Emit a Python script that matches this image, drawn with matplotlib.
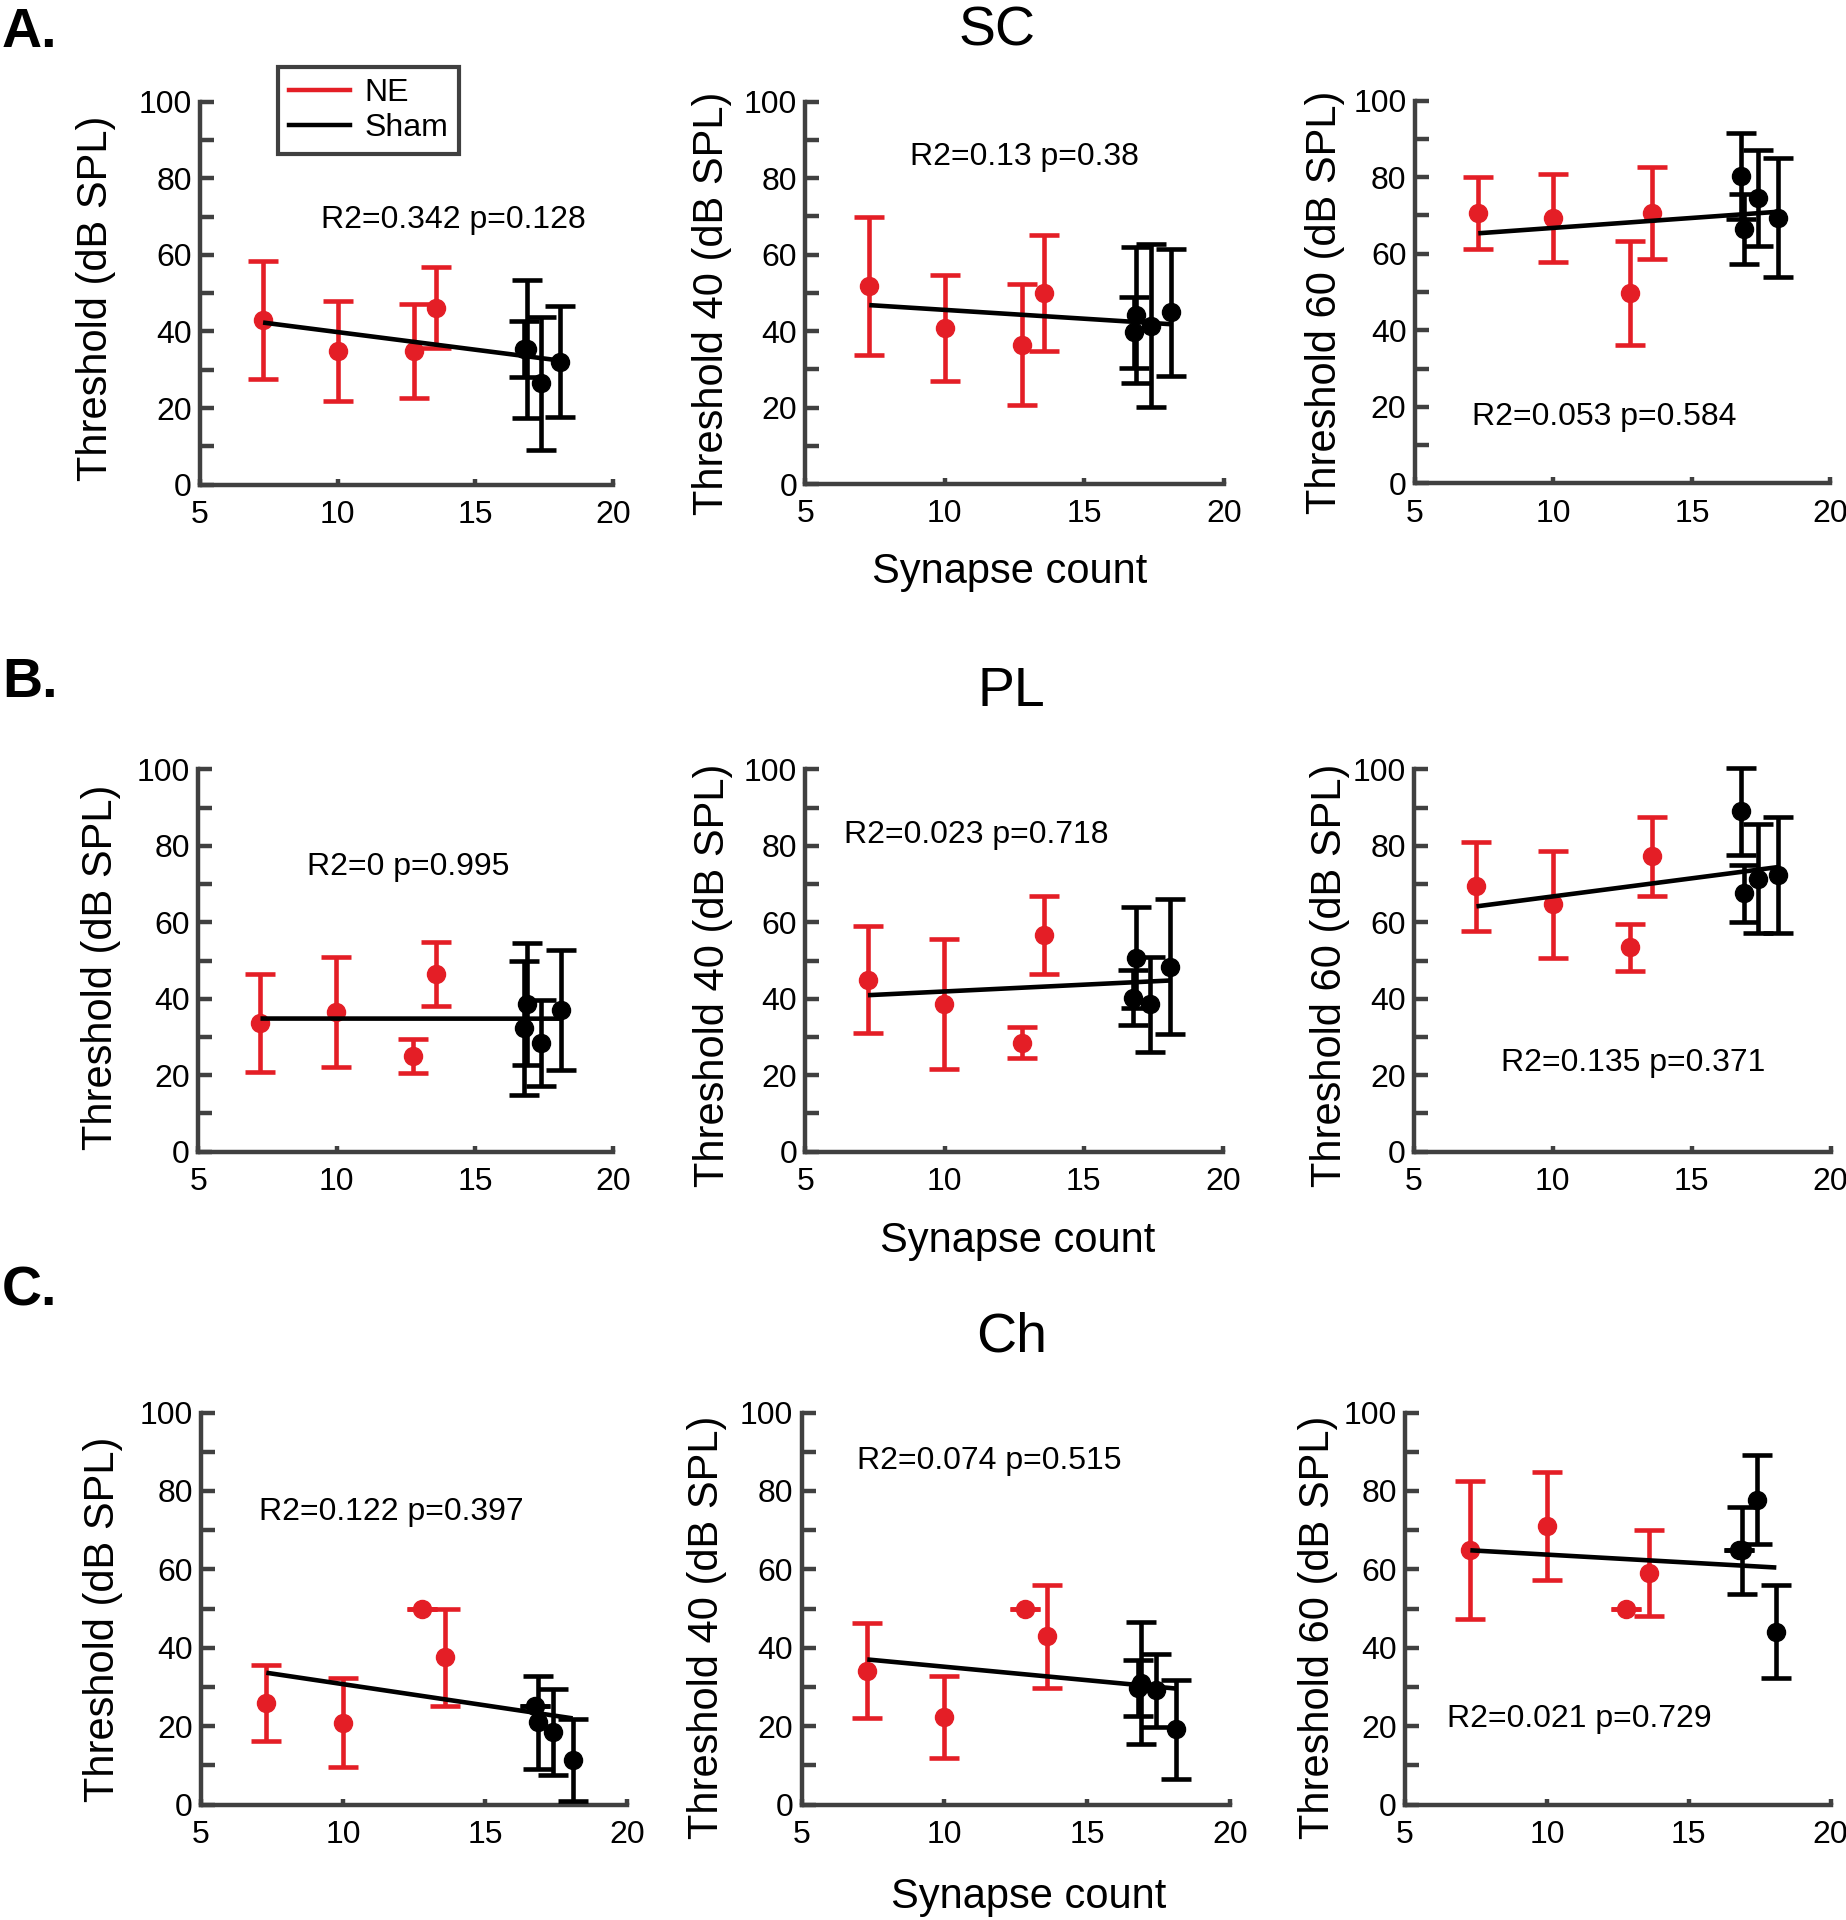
import numpy as np
import matplotlib
matplotlib.use("Agg")
import matplotlib.pyplot as plt
from matplotlib.lines import Line2D

plt.rcParams['font.family'] = ['Liberation Sans', 'DejaVu Sans']

# ---------------- data ----------------
regions = ["SC", "PL", "Ch"]
row_letters = ["A.", "B.", "C."]
ylabels = ["Threshold (dB SPL)", "Threshold 40 (dB SPL)", "Threshold 60 (dB SPL)"]
xlabel = "Synapse count"
series_names = ["NE", "Sham"]
xticks = [5, 10, 15, 20]
yticks = [0, 20, 40, 60, 80, 100]
yticklabels = ["0", "20", "40", "60", "80", "100"]
yminor = [10, 30, 50, 70, 90]

# synapse counts (x) per row
ne_x_sc = [7.29, 10.00, 12.78, 13.57]
sham_x_sc = [16.77, 16.87, 17.39, 18.09]
ne_x_pl = [7.25, 9.99, 12.77, 13.58]
sham_x_pl = [16.77, 16.87, 17.38, 18.10]
ne_x_ch = [7.30, 9.99, 12.80, 13.59]
sham_x_ch = [16.77, 16.87, 17.40, 18.09]

# SC
sc_thr_ne_mean = [43.1, 34.9, 34.9, 46.2]
sc_thr_ne_err = [15.4, 13.15, 12.3, 10.6]
sc_thr_sham_mean = [35.4, 35.4, 26.4, 32.1]
sc_thr_sham_err = [7.35, 18.05, 17.25, 14.5]
sc_t40_ne_mean = [51.9, 40.7, 36.4, 50.0]
sc_t40_ne_err = [18.05, 13.85, 15.8, 15.1]
sc_t40_sham_mean = [39.7, 44.2, 41.4, 44.9]
sc_t40_sham_err = [9.25, 17.7, 21.25, 16.55]
sc_t60_ne_mean = [70.6, 69.3, 49.8, 70.6]
sc_t60_ne_err = [9.35, 11.55, 13.55, 12.05]
sc_t60_sham_mean = [80.4, 66.5, 74.5, 69.4]
sc_t60_sham_err = [11.2, 9.1, 12.5, 15.5]
# PL
pl_thr_ne_mean = [33.7, 36.6, 25.1, 46.4]
pl_thr_ne_err = [12.8, 14.4, 4.45, 8.35]
pl_thr_sham_mean = [32.4, 38.6, 28.5, 37.1]
pl_thr_sham_err = [17.6, 15.9, 11.2, 15.75]
pl_t40_ne_mean = [44.95, 38.65, 28.5, 56.7]
pl_t40_ne_err = [13.95, 16.95, 4.05, 10.2]
pl_t40_sham_mean = [40.3, 50.7, 38.6, 48.4]
pl_t40_sham_err = [7.1, 13.2, 12.4, 17.7]
pl_t60_ne_mean = [69.45, 64.7, 53.4, 77.2]
pl_t60_ne_err = [11.65, 14.0, 6.1, 10.25]
pl_t60_sham_mean = [89.0, 67.6, 71.4, 72.25]
pl_t60_sham_err = [11.3, 7.5, 14.3, 15.15]
# Ch
ch_thr_ne_mean = [26.0, 20.85, 50.0, 37.6]
ch_thr_ne_err = [9.7, 11.35, 0.0, 12.35]
ch_thr_sham_mean = [25.1, 21.05, 18.5, 11.4]
ch_thr_sham_err = [0.0, 11.85, 10.9, 10.4]
ch_t40_ne_mean = [34.2, 22.45, 50.0, 42.9]
ch_t40_ne_err = [12.2, 10.45, 0.0, 13.2]
ch_t40_sham_mean = [29.85, 31.1, 29.15, 19.2]
ch_t40_sham_err = [7.15, 15.6, 9.25, 12.6]
ch_t60_ne_mean = [64.95, 71.0, 50.0, 59.1]
ch_t60_ne_err = [17.55, 13.8, 0.0, 10.9]
ch_t60_sham_mean = [64.9, 64.9, 77.75, 44.15]
ch_t60_sham_err = [0.0, 11.1, 11.35, 11.95]

stats_text = [
    ["R2=0.342 p=0.128", "R2=0.13 p=0.38", "R2=0.053 p=0.584"],
    ["R2=0 p=0.995", "R2=0.023 p=0.718", "R2=0.135 p=0.371"],
    ["R2=0.122 p=0.397", "R2=0.074 p=0.515", "R2=0.021 p=0.729"],
]

rows = [
    (ne_x_sc, sham_x_sc, [
        (sc_thr_ne_mean, sc_thr_ne_err, sc_thr_sham_mean, sc_thr_sham_err),
        (sc_t40_ne_mean, sc_t40_ne_err, sc_t40_sham_mean, sc_t40_sham_err),
        (sc_t60_ne_mean, sc_t60_ne_err, sc_t60_sham_mean, sc_t60_sham_err)]),
    (ne_x_pl, sham_x_pl, [
        (pl_thr_ne_mean, pl_thr_ne_err, pl_thr_sham_mean, pl_thr_sham_err),
        (pl_t40_ne_mean, pl_t40_ne_err, pl_t40_sham_mean, pl_t40_sham_err),
        (pl_t60_ne_mean, pl_t60_ne_err, pl_t60_sham_mean, pl_t60_sham_err)]),
    (ne_x_ch, sham_x_ch, [
        (ch_thr_ne_mean, ch_thr_ne_err, ch_thr_sham_mean, ch_thr_sham_err),
        (ch_t40_ne_mean, ch_t40_ne_err, ch_t40_sham_mean, ch_t40_sham_err),
        (ch_t60_ne_mean, ch_t60_ne_err, ch_t60_sham_mean, ch_t60_sham_err)]),
]

# ---------------- layout / style ----------------
RED = "#E41E26"
BLACK = "#000000"
AXC = "#404040"

W, H = 1846, 1920
# axes boxes in pixels: left, top, right, bottom
boxes_px = [
    [(200, 101.6, 613, 484.6), (805.4, 101.7, 1223.8, 484), (1414.8, 100.7, 1830.5, 483.3)],
    [(198.2, 769.3, 613.3, 1151.7), (805.4, 769.3, 1222.7, 1151.7), (1414, 769.3, 1830.5, 1151.7)],
    [(201, 1412.5, 626.9, 1804.7), (801.5, 1412.5, 1230.4, 1804.7), (1405.1, 1412.5, 1830.5, 1804.7)],
]
ylabel_pos = [
    [(-0.252, 0.487), (-0.223, 0.473), (-0.215, 0.473)],
    [(-0.233, 0.482), (-0.221, 0.462), (-0.202, 0.462)],
    [(-0.231, 0.472), (-0.220, 0.453), (-0.205, 0.453)],
]
text_pos = [
    [(14.2, 69.0), (12.86, 85.6), (11.83, 17.4)],
    [(12.6, 74.5), (11.14, 82.8), (12.9, 23.1)],
    [(11.72, 74.7), (11.58, 87.7), (11.16, 21.8)],
]

fig = plt.figure(figsize=(W / 100, H / 100), dpi=100)

eb_kw = dict(fmt='o', ms=13, elinewidth=3.3, capsize=11, capthick=3.3,
             clip_on=False, zorder=3)

for r, (xn, xs, panels) in enumerate(rows):
    for c, (nm, ne_e, sm, se) in enumerate(panels):
        l, t, rr, b = boxes_px[r][c]
        ax = fig.add_axes([l / W, 1 - b / H, (rr - l) / W, (b - t) / H])
        ax.errorbar(xn, nm, yerr=ne_e, color=RED, mec=RED, mfc=RED, **eb_kw)
        ax.errorbar(xs, sm, yerr=se, color=BLACK, mec=BLACK, mfc=BLACK, **eb_kw)
        # least-squares line through all points
        xa = np.array(list(xn) + list(xs))
        ya = np.array(list(nm) + list(sm))
        k, d = np.polyfit(xa, ya, 1)
        xl = np.array([xa.min(), xa.max()])
        ax.plot(xl, k * xl + d, color=BLACK, lw=3.3, zorder=5, solid_capstyle='butt')

        ax.set_xlim(5, 20)
        ax.set_ylim(0, 100)
        ax.set_xticks(xticks)
        ax.set_xticklabels([str(v) for v in xticks])
        ax.set_yticks(yticks)
        ax.set_yticklabels(yticklabels)
        ax.set_yticks(yminor, minor=True)
        for s in ["top", "right"]:
            ax.spines[s].set_visible(False)
        for s in ["left", "bottom"]:
            ax.spines[s].set_linewidth(3.2)
            ax.spines[s].set_color(AXC)
        ax.tick_params(axis='y', which='both', direction='in', length=10, width=3.2,
                       color=AXC, labelsize=23, pad=6)
        ax.tick_params(axis='x', which='both', direction='in', length=4.5, width=3.2,
                       color=AXC, labelsize=23, pad=11)
        ax.text(ylabel_pos[r][c][0], ylabel_pos[r][c][1], ylabels[c], rotation=90,
                ha='center', va='center', fontsize=30, transform=ax.transAxes)
        tx, ty = text_pos[r][c]
        ax.text(tx, ty, stats_text[r][c], ha='center', va='center', fontsize=23)

        if r == 0 and c == 0:
            handles = [Line2D([0], [0], color=RED, lw=3.2),
                       Line2D([0], [0], color=BLACK, lw=3.2)]
            leg = ax.legend(handles, series_names, loc='upper left',
                            bbox_to_anchor=(0.189, 1.09), borderaxespad=0,
                            fontsize=23, frameon=True, fancybox=False,
                            handlelength=1.9, handletextpad=0.45,
                            labelspacing=0.15, borderpad=0.35)
            leg.get_frame().set_edgecolor(AXC)
            leg.get_frame().set_linewidth(3.0)
            leg.get_frame().set_alpha(1)

# row letters, titles, x labels
letter_y = [1 - 33 / H, 1 - 683 / H, 1 - 1291 / H]
title_xy = [(0.540, 1 - 32 / H), (0.548, 1 - 692 / H), (0.548, 1 - 1338 / H)]
xlabel_xy = [(0.547, 1 - 572 / H), (0.551, 1 - 1241 / H), (0.557, 1 - 1897 / H)]
for r in range(3):
    fig.text(0.001, letter_y[r], row_letters[r], fontsize=40, fontweight='bold',
             ha='left', va='center')
    fig.text(title_xy[r][0], title_xy[r][1], regions[r], fontsize=40,
             ha='center', va='center')
    fig.text(xlabel_xy[r][0], xlabel_xy[r][1], xlabel, fontsize=30,
             ha='center', va='center')

fig.savefig("out.png", dpi=100)
